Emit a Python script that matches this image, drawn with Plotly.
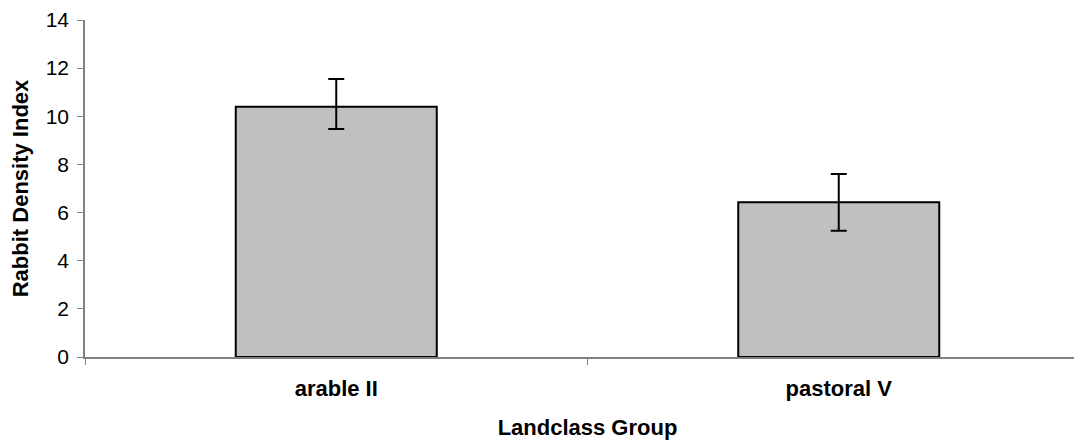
import plotly.graph_objects as go

groups = ["arable II", "pastoral V"]
density = [10.4, 6.43]
err_plus = [1.15, 1.17]
err_minus = [0.93, 1.18]

fig = go.Figure()
fig.add_trace(go.Bar(
    x=groups,
    y=density,
    marker=dict(color="#C0C0C0", line=dict(color="black", width=2)),
    error_y=dict(type="data", symmetric=False, array=err_plus, arrayminus=err_minus,
                 color="black", thickness=2, width=8),
    width=0.4,
))

fig.update_layout(
    width=1082, height=443,
    margin=dict(l=77, r=0, t=12, b=94),
    plot_bgcolor="white", paper_bgcolor="white",
    font=dict(family="Liberation Sans, Arial", size=22, color="black"),
    showlegend=False,
)
fig.update_xaxes(
    showline=True, linecolor="#808080", linewidth=1.5,
    ticks="outside", tickson="boundaries", tickcolor="#808080", ticklen=6,
    tickfont=dict(size=22),
    ticklabelstandoff=11,
    tickprefix="<b>", ticksuffix="</b>",
    title=dict(text="<b>Landclass Group</b>", font=dict(size=22), standoff=19),
)
fig.update_yaxes(
    range=[0, 14], dtick=2,
    showline=True, linecolor="#808080", linewidth=1.5,
    ticks="outside", tickcolor="#808080", ticklen=6,
    ticklabeloverflow="allow", ticklabelstandoff=4,
    showgrid=False, zeroline=False,
    tickfont=dict(size=21),
    title=dict(text="<b>Rabbit Density Index</b>", font=dict(size=22), standoff=16),
)

fig.write_html("out.html")
